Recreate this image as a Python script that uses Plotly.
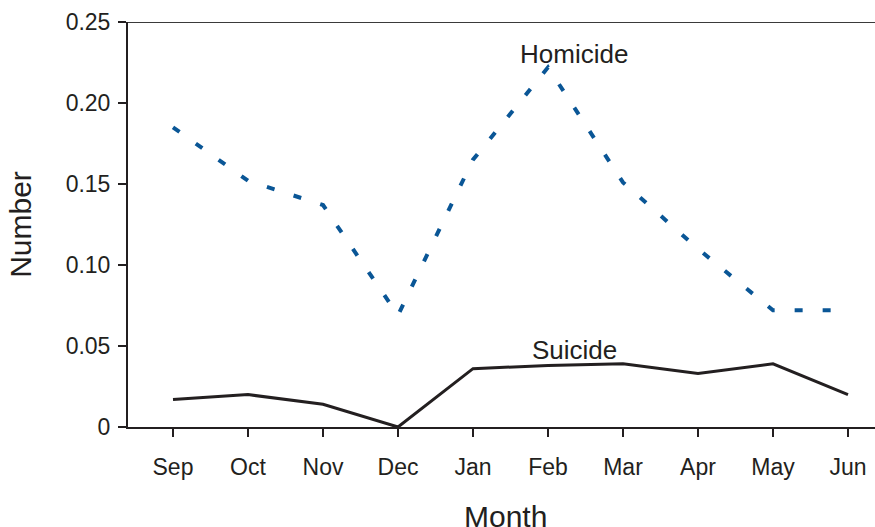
import plotly.graph_objects as go

months = ["Sep", "Oct", "Nov", "Dec", "Jan", "Feb", "Mar", "Apr", "May", "Jun"]
homicide = [0.185, 0.152, 0.137, 0.069, 0.165, 0.222, 0.151, 0.110, 0.072, 0.072]
suicide = [0.017, 0.020, 0.014, 0.000, 0.036, 0.038, 0.039, 0.033, 0.039, 0.020]
ytick_vals = [0, 0.05, 0.10, 0.15, 0.20, 0.25]
ytick_text = ["0", "0.05", "0.10", "0.15", "0.20", "0.25"]

FONT = "Liberation Sans, Arial, sans-serif"
INK = "#231f20"

fig = go.Figure()
fig.add_trace(go.Scatter(x=months, y=homicide, mode="lines",
                         line=dict(color="#0a5696", width=4, dash="8px,20px"),
                         showlegend=False))
fig.add_trace(go.Scatter(x=months, y=suicide, mode="lines",
                         line=dict(color=INK, width=3),
                         showlegend=False))

fig.add_annotation(x=5.35, y=0.2302, text="Homicide", showarrow=False,
                   yanchor="middle", font=dict(size=26, color=INK, family=FONT))
fig.add_annotation(x=5.35, y=0.0477, text="Suicide", showarrow=False,
                   yanchor="middle", font=dict(size=26, color=INK, family=FONT))
# x-axis title placed as annotation so it can sit low, as in the reference
fig.add_annotation(xref="paper", yref="paper", x=0.506, y=0, yshift=-71,
                   xanchor="center", yanchor="top", text="Month", showarrow=False,
                   font=dict(size=30, color=INK, family=FONT))

fig.add_shape(type="line", xref="paper", yref="y", x0=0, x1=1, y0=0.25, y1=0.25,
              line=dict(color="#3a3a3a", width=2))

fig.update_layout(
    width=875, height=527,
    margin=dict(l=128, r=0, t=22, b=100, autoexpand=False),
    plot_bgcolor="white", paper_bgcolor="white",
    font=dict(family=FONT, color=INK),
    xaxis=dict(
        type="category", range=[-0.6, 9.36],
        showgrid=False, zeroline=False,
        showline=True, linecolor=INK, linewidth=2,
        ticks="outside", ticklen=8, tickwidth=2, tickcolor=INK,
        tickfont=dict(size=23, family=FONT), ticklabelstandoff=10,
        automargin=False,
    ),
    yaxis=dict(
        range=[0, 0.25], tickvals=ytick_vals, ticktext=ytick_text,
        showgrid=False, zeroline=False,
        showline=True, linecolor=INK, linewidth=2,
        ticks="outside", ticklen=8, tickwidth=2, tickcolor=INK,
        tickfont=dict(size=23, family=FONT), ticklabelstandoff=3,
        title=dict(text="Number", font=dict(size=30, family=FONT), standoff=25),
        automargin=False,
    ),
)

fig.write_html("out.html", config={"displayModeBar": False},
               post_script="document.body.style.margin='0';document.body.style.overflow='hidden';")
